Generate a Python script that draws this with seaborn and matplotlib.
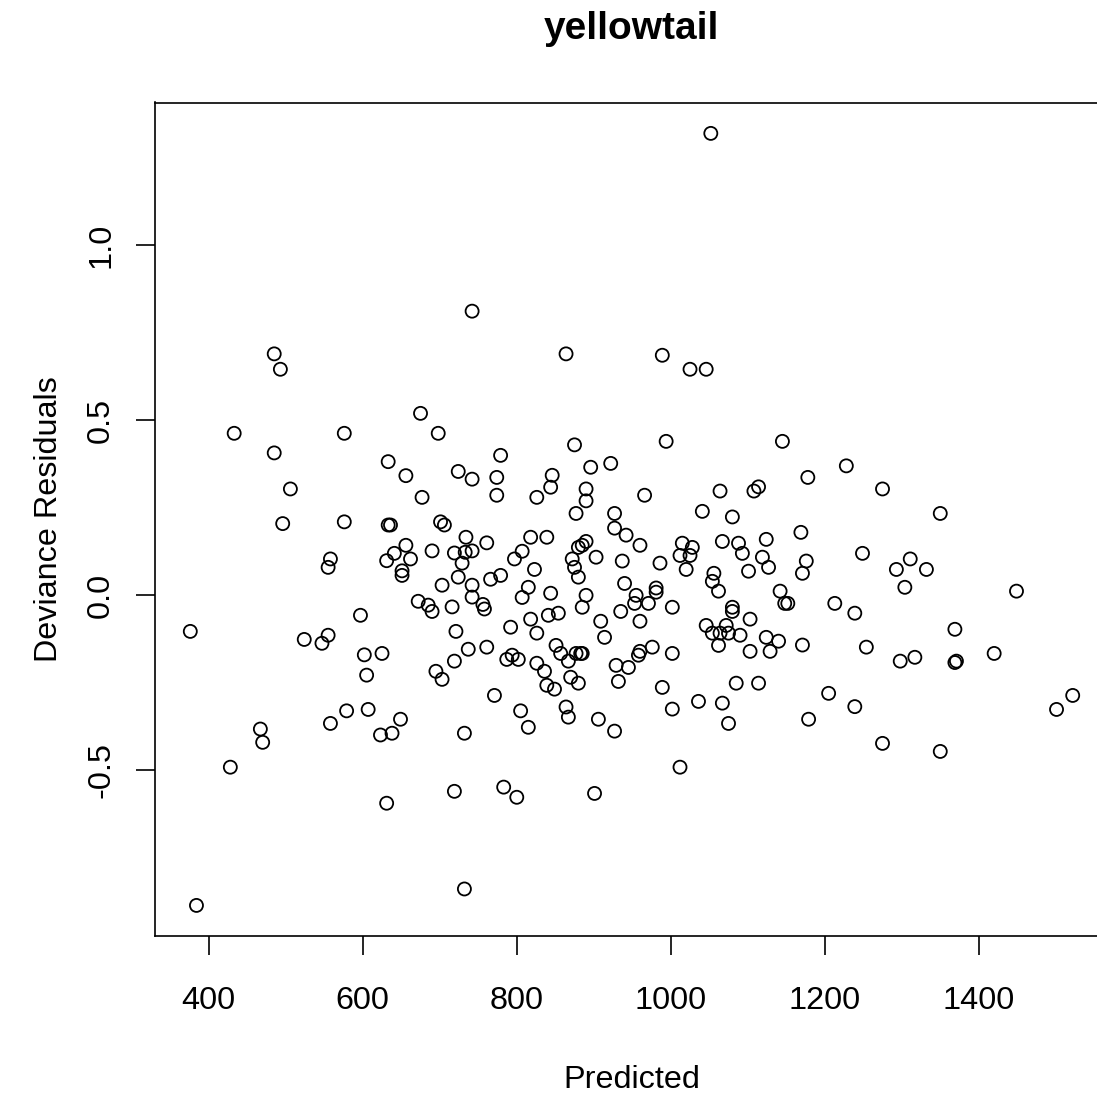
import matplotlib
matplotlib.use("Agg")
import matplotlib.pyplot as plt
import seaborn as sns
import pandas as pd

# Predicted catch vs. deviance residuals for the yellowtail model
predicted = [
    1052, 742, 485, 493, 675, 433, 576, 698, 485, 633, 656, 724, 742, 506, 677,
    496, 576, 633, 636, 701, 706, 734, 864, 989, 1025, 1046, 875, 994, 1145, 779,
    896, 922, 774, 774, 846, 844, 826, 890, 890, 877, 927, 966, 1064, 1041, 1080,
    1108, 1114, 1228, 1178, 1275, 1350, 1169, 656, 641, 631, 662, 690, 719, 733, 742,
    729, 558, 555, 651, 651, 724, 703, 742, 742, 672, 685, 690, 716, 597, 376,
    524, 555, 547, 721, 737, 602, 625, 719, 695, 703, 605, 579, 607, 558, 649,
    623, 638, 732, 467, 470, 428, 631, 719, 732, 384, 1012, 783, 800, 901, 1275,
    1350, 1249, 1176, 1171, 1311, 1293, 1332, 1304, 1449, 1213, 1239, 1369, 1171, 1254, 1298,
    1317, 1369, 1371, 1420, 1205, 1239, 1179, 1522, 1501, 761, 818, 839, 807, 797, 823,
    779, 766, 756, 758, 815, 807, 844, 890, 885, 880, 872, 875, 880, 903, 927,
    942, 960, 937, 940, 890, 885, 955, 953, 971, 981, 981, 986, 1015, 1028, 1012,
    1025, 1020, 1002, 1067, 1088, 1093, 1124, 1119, 1127, 1101, 1056, 1054, 1062, 1142, 1148,
    1152, 1080, 1080, 1103, 841, 854, 818, 792, 826, 909, 935, 960, 914, 1046, 1072,
    1054, 1064, 1075, 1090, 1062, 1124, 1140, 1103, 1129, 761, 787, 794, 802, 826, 836,
    839, 849, 851, 857, 867, 877, 883, 885, 870, 880, 864, 867, 929, 945, 932,
    958, 960, 976, 1002, 989, 1002, 1036, 1067, 1075, 1085, 1114, 771, 805, 815, 906,
    927,
]
residuals = [
    1.319, 0.811, 0.689, 0.645, 0.519, 0.462, 0.462, 0.462, 0.406, 0.381, 0.341, 0.353, 0.331, 0.303, 0.279,
    0.204, 0.209, 0.200, 0.200, 0.209, 0.200, 0.165, 0.689, 0.685, 0.645, 0.645, 0.429, 0.439, 0.439, 0.399,
    0.365, 0.376, 0.336, 0.285, 0.342, 0.308, 0.279, 0.303, 0.269, 0.233, 0.233, 0.285, 0.297, 0.239, 0.223,
    0.297, 0.309, 0.369, 0.336, 0.303, 0.233, 0.179, 0.142, 0.119, 0.098, 0.103, 0.126, 0.120, 0.122, 0.126,
    0.091, 0.103, 0.079, 0.069, 0.056, 0.051, 0.028, 0.028, -0.006, -0.018, -0.029, -0.047, -0.034, -0.058, -0.104,
    -0.127, -0.115, -0.138, -0.104, -0.155, -0.171, -0.167, -0.189, -0.218, -0.241, -0.229, -0.331, -0.327, -0.367, -0.355,
    -0.400, -0.395, -0.395, -0.383, -0.421, -0.492, -0.595, -0.561, -0.840, -0.887, -0.492, -0.549, -0.578, -0.567, -0.424,
    -0.447, 0.119, 0.097, 0.062, 0.103, 0.073, 0.073, 0.022, 0.011, -0.024, -0.052, -0.098, -0.143, -0.149, -0.189,
    -0.178, -0.193, -0.189, -0.167, -0.281, -0.319, -0.355, -0.287, -0.327, 0.149, 0.165, 0.165, 0.125, 0.103, 0.073,
    0.056, 0.045, -0.027, -0.040, 0.022, -0.007, 0.005, 0.153, 0.142, 0.136, 0.103, 0.079, 0.051, 0.108, 0.191,
    0.171, 0.142, 0.097, 0.033, -0.001, -0.035, -0.001, -0.024, -0.024, 0.020, 0.008, 0.091, 0.148, 0.136, 0.113,
    0.113, 0.073, -0.035, 0.153, 0.148, 0.119, 0.159, 0.108, 0.079, 0.068, 0.062, 0.039, 0.011, 0.011, -0.024,
    -0.024, -0.035, -0.047, -0.069, -0.058, -0.052, -0.069, -0.092, -0.109, -0.075, -0.047, -0.075, -0.121, -0.087, -0.087,
    -0.109, -0.109, -0.109, -0.115, -0.144, -0.121, -0.132, -0.161, -0.161, -0.149, -0.184, -0.172, -0.184, -0.195, -0.218,
    -0.258, -0.269, -0.144, -0.167, -0.189, -0.167, -0.167, -0.167, -0.235, -0.252, -0.320, -0.349, -0.201, -0.207, -0.247,
    -0.172, -0.161, -0.149, -0.167, -0.264, -0.326, -0.304, -0.309, -0.367, -0.252, -0.252, -0.287, -0.331, -0.378, -0.355,
    -0.389,
]
x_ticks = [400, 600, 800, 1000, 1200, 1400]
y_ticks = [-0.5, 0.0, 0.5, 1.0]
y_tick_labels = ["-0.5", "0.0", "0.5", "1.0"]

df = pd.DataFrame({"Predicted": predicted, "Deviance Residuals": residuals})

sns.set_theme(style="white")
plt.rcParams["font.family"] = ["Liberation Sans", "DejaVu Sans"]

W, H = 1097, 1095
fig = plt.figure(figsize=(W / 100, H / 100), dpi=100)
left, right, top, bottom = 155, 1108, 102.5, 936.3
ax = fig.add_axes([left / W, (H - bottom) / H, (right - left) / W, (bottom - top) / H])

sns.scatterplot(
    data=df, x="Predicted", y="Deviance Residuals", ax=ax,
    marker="o", s=88, facecolors="none", edgecolor="black", linewidth=1.3,
)

# 4% padding on each side of the data range
def padded(vals):
    lo, hi = min(vals), max(vals)
    d = (hi - lo) * 0.04
    return lo - d, hi + d

ax.set_xlim(*padded(predicted))
ax.set_ylim(*padded(residuals))

ax.set_xticks(x_ticks)
ax.set_xticklabels([str(v) for v in x_ticks])
ax.set_yticks(y_ticks)
ax.set_yticklabels(y_tick_labels, rotation=90, va="center")

for sp in ax.spines.values():
    sp.set_color("black")
    sp.set_linewidth(1.2)

ax.tick_params(axis="both", direction="out", length=14, width=1.2, color="black",
               labelsize=23.3, labelcolor="black", bottom=True, left=True)
ax.tick_params(axis="x", pad=22)
ax.tick_params(axis="y", pad=14)

ax.set_xlabel("Predicted", fontsize=23.3, color="black", labelpad=35)
ax.set_ylabel("Deviance Residuals", fontsize=23.3, color="black", labelpad=16)
fig.text((left + right) / 2 / W, 1 - 29 / H, "yellowtail", ha="center", va="center",
         fontsize=28, fontweight="bold", color="black")

fig.savefig("out.png", dpi=100, facecolor="white")
